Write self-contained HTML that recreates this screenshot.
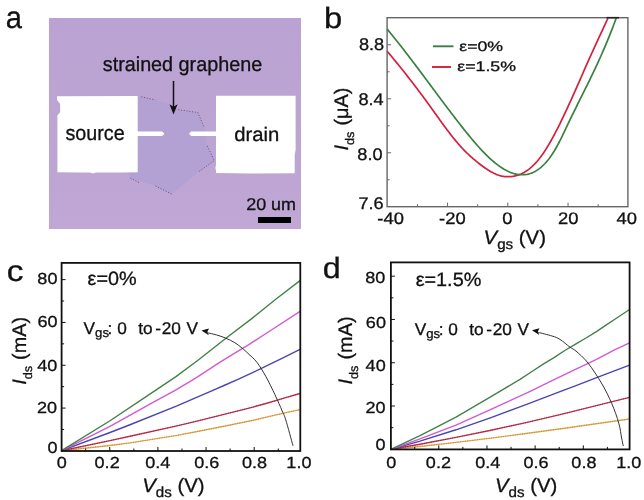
<!DOCTYPE html>
<html><head><meta charset="utf-8"><style>
html,body{margin:0;padding:0;background:#fff;}
svg{display:block;filter:blur(0.35px);}
text{font-family:"Liberation Sans", sans-serif;text-rendering:geometricPrecision;stroke:#111;stroke-width:0.3px;}
</style></head><body>
<svg width="644" height="500" viewBox="0 0 644 500">
<defs>
<linearGradient id="abg" x1="0" y1="0" x2="0" y2="1">
<stop offset="0" stop-color="#baa2d2"/>
<stop offset="0.6" stop-color="#bca4d3"/>
<stop offset="1" stop-color="#c0a7d5"/>
</linearGradient>
</defs>
<rect width="644" height="500" fill="#fff"/>
<rect x="49" y="18" width="252" height="211" fill="url(#abg)"/>
<path d="M137.70,96.30 L141.20,96.70 L155.20,99.90 L166.00,103.00 L178.20,109.70 L197.80,112.50 L204.00,127.10 L207.30,145.90 L214.30,160.60 L198.00,172.30 L171.60,194.00 L154.50,185.50 L130.40,178.50 L128.00,173.00 L137.70,172.30Z" fill="#b4a1d4"/>
<path d="M141.20,96.70 L155.20,99.90" fill="none" stroke="#6a5080" stroke-width="0.9" stroke-dasharray="1.2,1.6"/>
<path d="M178.20,109.70 L197.80,112.50 L204.00,127.10" fill="none" stroke="#6a5080" stroke-width="0.9" stroke-dasharray="1.2,1.6"/>
<path d="M207.30,145.90 L214.30,160.60 L198.00,172.30" fill="none" stroke="#6a5080" stroke-width="0.9" stroke-dasharray="1.2,1.6"/>
<path d="M171.60,194.00 L154.50,185.50" fill="none" stroke="#6a5080" stroke-width="0.9" stroke-dasharray="1.2,1.6"/>
<path d="M130.40,178.20 L140.00,183.00" fill="none" stroke="#6a5080" stroke-width="0.9" stroke-dasharray="1.2,1.6"/>
<path d="M57.00,96.30 L137.70,96.00 L137.70,131.50 L162.20,131.50 L164.40,133.75 L162.20,136.00 L137.70,136.00 L137.70,172.30 L120.00,172.60 L96.00,172.60 L93.00,173.60 L90.00,172.60 L80.00,172.60 L57.40,172.20 L57.40,115.60 L60.20,112.00 L60.10,104.00 L57.00,100.00Z" fill="#fff"/>
<path d="M216.00,95.70 L295.60,95.70 L295.60,150.00 L294.70,155.00 L294.70,173.30 L250.00,173.50 L216.00,173.00 L216.00,170.70 L215.40,168.00 L216.00,165.00 L216.00,136.00 L191.20,136.00 L189.00,133.75 L191.20,131.50 L216.00,131.50Z" fill="#fff"/>
<line x1="173.5" y1="80.9" x2="173.5" y2="108" stroke="#111" stroke-width="1.5"/>
<path d="M169.5,104.3 L173.5,114.6 L177.6,104.3 L173.5,106.8 Z" fill="#111"/>
<rect x="258" y="217" width="33" height="6" fill="#000"/>
<path d="M387.00,51.02 L388.00,52.21 L389.00,53.40 L390.00,54.60 L391.00,55.80 L392.00,57.01 L393.00,58.22 L394.00,59.43 L395.00,60.65 L396.00,61.87 L397.00,63.10 L398.00,64.33 L399.00,65.57 L400.00,66.81 L401.00,68.05 L402.00,69.30 L403.00,70.55 L404.00,71.81 L405.00,73.07 L406.00,74.34 L407.00,75.61 L408.00,76.88 L409.00,78.16 L410.00,79.45 L411.00,80.74 L412.00,82.03 L413.00,83.33 L414.00,84.64 L415.00,85.95 L416.00,87.26 L417.00,88.58 L418.00,89.90 L419.00,91.23 L420.00,92.57 L421.00,93.91 L422.00,95.25 L423.00,96.60 L424.00,97.96 L425.00,99.32 L426.00,100.69 L427.00,102.06 L428.00,103.44 L429.00,104.82 L430.00,106.21 L431.00,107.60 L432.00,108.99 L433.00,110.39 L434.00,111.79 L435.00,113.19 L436.00,114.58 L437.00,115.98 L438.00,117.37 L439.00,118.77 L440.00,120.15 L441.00,121.54 L442.00,122.91 L443.00,124.28 L444.00,125.65 L445.00,127.00 L446.00,128.35 L447.00,129.68 L448.00,131.01 L449.00,132.32 L450.00,133.62 L451.00,134.91 L452.00,136.19 L453.00,137.45 L454.00,138.69 L455.00,139.91 L456.00,141.12 L457.00,142.31 L458.00,143.49 L459.00,144.64 L460.00,145.77 L461.00,146.87 L462.00,147.96 L463.00,149.02 L464.00,150.06 L465.00,151.08 L466.00,152.07 L467.00,153.05 L468.00,154.01 L469.00,154.94 L470.00,155.86 L471.00,156.77 L472.00,157.65 L473.00,158.52 L474.00,159.38 L475.00,160.22 L476.00,161.05 L477.00,161.87 L478.00,162.67 L479.00,163.46 L480.00,164.24 L481.00,165.01 L482.00,165.77 L483.00,166.51 L484.00,167.23 L485.00,167.93 L486.00,168.62 L487.00,169.28 L488.00,169.93 L489.00,170.55 L490.00,171.15 L491.00,171.73 L492.00,172.27 L493.00,172.80 L494.00,173.29 L495.00,173.75 L496.00,174.19 L497.00,174.59 L498.00,174.96 L499.00,175.30 L500.00,175.60 L501.00,175.87 L502.00,176.10 L503.00,176.29 L504.00,176.44 L505.00,176.56 L506.00,176.65 L507.00,176.70 L508.00,176.72 L509.00,176.70 L510.00,176.65 L511.00,176.57 L512.00,176.46 L513.00,176.32 L514.00,176.14 L515.00,175.93 L516.00,175.69 L517.00,175.41 L518.00,175.10 L519.00,174.75 L520.00,174.36 L521.00,173.94 L522.00,173.48 L523.00,172.98 L524.00,172.43 L525.00,171.85 L526.00,171.23 L527.00,170.57 L528.00,169.86 L529.00,169.11 L530.00,168.31 L531.00,167.47 L532.00,166.59 L533.00,165.65 L534.00,164.68 L535.00,163.65 L536.00,162.57 L537.00,161.45 L538.00,160.27 L539.00,159.05 L540.00,157.77 L541.00,156.45 L542.00,155.07 L543.00,153.65 L544.00,152.18 L545.00,150.67 L546.00,149.11 L547.00,147.51 L548.00,145.87 L549.00,144.19 L550.00,142.48 L551.00,140.73 L552.00,138.94 L553.00,137.12 L554.00,135.26 L555.00,133.38 L556.00,131.46 L557.00,129.52 L558.00,127.55 L559.00,125.55 L560.00,123.53 L561.00,121.49 L562.00,119.43 L563.00,117.34 L564.00,115.24 L565.00,113.11 L566.00,110.98 L567.00,108.82 L568.00,106.65 L569.00,104.46 L570.00,102.27 L571.00,100.06 L572.00,97.83 L573.00,95.60 L574.00,93.36 L575.00,91.12 L576.00,88.86 L577.00,86.60 L578.00,84.34 L579.00,82.07 L580.00,79.80 L581.00,77.53 L582.00,75.25 L583.00,72.98 L584.00,70.71 L585.00,68.45 L586.00,66.18 L587.00,63.92 L588.00,61.67 L589.00,59.42 L590.00,57.19 L591.00,54.96 L592.00,52.74 L593.00,50.53 L594.00,48.34 L595.00,46.15 L596.00,43.97 L597.00,41.80 L598.00,39.64 L599.00,37.48 L600.00,35.33 L601.00,33.18 L602.00,31.03 L603.00,28.88 L604.00,26.73 L605.00,24.58 L606.00,22.42 L607.00,20.26 L608.00,18.09" fill="none" stroke="#d4203e" stroke-width="1.7"/>
<path d="M387.00,28.94 L388.00,30.14 L389.00,31.35 L390.00,32.56 L391.00,33.78 L392.00,35.00 L393.00,36.24 L394.00,37.47 L395.00,38.72 L396.00,39.97 L397.00,41.22 L398.00,42.48 L399.00,43.74 L400.00,45.01 L401.00,46.29 L402.00,47.57 L403.00,48.85 L404.00,50.14 L405.00,51.43 L406.00,52.73 L407.00,54.03 L408.00,55.33 L409.00,56.64 L410.00,57.95 L411.00,59.26 L412.00,60.58 L413.00,61.90 L414.00,63.22 L415.00,64.55 L416.00,65.88 L417.00,67.21 L418.00,68.54 L419.00,69.87 L420.00,71.21 L421.00,72.55 L422.00,73.88 L423.00,75.23 L424.00,76.57 L425.00,77.91 L426.00,79.25 L427.00,80.60 L428.00,81.94 L429.00,83.29 L430.00,84.63 L431.00,85.98 L432.00,87.32 L433.00,88.67 L434.00,90.01 L435.00,91.36 L436.00,92.70 L437.00,94.05 L438.00,95.39 L439.00,96.73 L440.00,98.07 L441.00,99.40 L442.00,100.74 L443.00,102.08 L444.00,103.41 L445.00,104.74 L446.00,106.07 L447.00,107.39 L448.00,108.72 L449.00,110.04 L450.00,111.35 L451.00,112.67 L452.00,113.98 L453.00,115.29 L454.00,116.59 L455.00,117.89 L456.00,119.19 L457.00,120.48 L458.00,121.77 L459.00,123.06 L460.00,124.34 L461.00,125.61 L462.00,126.89 L463.00,128.15 L464.00,129.41 L465.00,130.67 L466.00,131.91 L467.00,133.16 L468.00,134.39 L469.00,135.61 L470.00,136.83 L471.00,138.04 L472.00,139.24 L473.00,140.42 L474.00,141.60 L475.00,142.76 L476.00,143.92 L477.00,145.06 L478.00,146.19 L479.00,147.30 L480.00,148.40 L481.00,149.49 L482.00,150.56 L483.00,151.61 L484.00,152.65 L485.00,153.67 L486.00,154.68 L487.00,155.66 L488.00,156.63 L489.00,157.58 L490.00,158.51 L491.00,159.42 L492.00,160.31 L493.00,161.18 L494.00,162.02 L495.00,162.85 L496.00,163.65 L497.00,164.43 L498.00,165.18 L499.00,165.91 L500.00,166.62 L501.00,167.30 L502.00,167.95 L503.00,168.58 L504.00,169.18 L505.00,169.75 L506.00,170.30 L507.00,170.82 L508.00,171.30 L509.00,171.76 L510.00,172.19 L511.00,172.59 L512.00,172.95 L513.00,173.29 L514.00,173.59 L515.00,173.85 L516.00,174.09 L517.00,174.29 L518.00,174.46 L519.00,174.59 L520.00,174.68 L521.00,174.74 L522.00,174.77 L523.00,174.75 L524.00,174.70 L525.00,174.61 L526.00,174.48 L527.00,174.31 L528.00,174.10 L529.00,173.85 L530.00,173.56 L531.00,173.22 L532.00,172.84 L533.00,172.42 L534.00,171.95 L535.00,171.43 L536.00,170.87 L537.00,170.25 L538.00,169.59 L539.00,168.88 L540.00,168.11 L541.00,167.29 L542.00,166.42 L543.00,165.49 L544.00,164.51 L545.00,163.47 L546.00,162.38 L547.00,161.22 L548.00,160.01 L549.00,158.74 L550.00,157.40 L551.00,156.00 L552.00,154.54 L553.00,153.02 L554.00,151.43 L555.00,149.77 L556.00,148.05 L557.00,146.26 L558.00,144.41 L559.00,142.51 L560.00,140.56 L561.00,138.57 L562.00,136.54 L563.00,134.49 L564.00,132.41 L565.00,130.31 L566.00,128.20 L567.00,126.09 L568.00,123.99 L569.00,121.89 L570.00,119.80 L571.00,117.73 L572.00,115.67 L573.00,113.62 L574.00,111.58 L575.00,109.54 L576.00,107.52 L577.00,105.50 L578.00,103.49 L579.00,101.48 L580.00,99.47 L581.00,97.47 L582.00,95.46 L583.00,93.45 L584.00,91.44 L585.00,89.43 L586.00,87.41 L587.00,85.39 L588.00,83.36 L589.00,81.32 L590.00,79.27 L591.00,77.21 L592.00,75.14 L593.00,73.06 L594.00,70.96 L595.00,68.84 L596.00,66.71 L597.00,64.56 L598.00,62.39 L599.00,60.20 L600.00,57.99 L601.00,55.76 L602.00,53.50 L603.00,51.21 L604.00,48.90 L605.00,46.57 L606.00,44.20 L607.00,41.80 L608.00,39.37 L609.00,36.91 L610.00,34.42 L611.00,31.89 L612.00,29.32 L613.00,26.72 L614.00,24.07 L615.00,21.39 L616.00,18.67 L616.40,17.57" fill="none" stroke="#3a8040" stroke-width="1.7"/>
<rect x="387.1" y="17.7" width="240.79999999999995" height="189.0" fill="none" stroke="#666" stroke-width="1.4"/>
<line x1="387.1" y1="179.80" x2="389.6" y2="179.80" stroke="#666" stroke-width="1"/>
<line x1="387.1" y1="152.80" x2="391.1" y2="152.80" stroke="#666" stroke-width="1"/>
<line x1="387.1" y1="125.80" x2="389.6" y2="125.80" stroke="#666" stroke-width="1"/>
<line x1="387.1" y1="98.80" x2="391.1" y2="98.80" stroke="#666" stroke-width="1"/>
<line x1="387.1" y1="71.80" x2="389.6" y2="71.80" stroke="#666" stroke-width="1"/>
<line x1="387.1" y1="44.80" x2="391.1" y2="44.80" stroke="#666" stroke-width="1"/>
<line x1="417.43" y1="206.7" x2="417.43" y2="204.2" stroke="#666" stroke-width="1"/>
<line x1="447.55" y1="206.7" x2="447.55" y2="202.7" stroke="#666" stroke-width="1"/>
<line x1="477.68" y1="206.7" x2="477.68" y2="204.2" stroke="#666" stroke-width="1"/>
<line x1="507.80" y1="206.7" x2="507.80" y2="202.7" stroke="#666" stroke-width="1"/>
<line x1="537.92" y1="206.7" x2="537.92" y2="204.2" stroke="#666" stroke-width="1"/>
<line x1="568.05" y1="206.7" x2="568.05" y2="202.7" stroke="#666" stroke-width="1"/>
<line x1="598.17" y1="206.7" x2="598.17" y2="204.2" stroke="#666" stroke-width="1"/>
<line x1="606.5" y1="17.7" x2="619" y2="17.7" stroke="#222" stroke-width="1.6"/>
<line x1="433" y1="46.3" x2="453.5" y2="46.3" stroke="#3a8040" stroke-width="1.9"/>
<line x1="432" y1="67" x2="451" y2="67" stroke="#d4203e" stroke-width="1.9"/>
<path d="M61.60,450.70 L110.00,445.49 L130.00,442.93 L177.00,435.41 L196.00,431.78 L224.00,426.25 L252.00,420.55 L275.00,415.17 L293.00,411.16 L300.00,409.66" fill="none" stroke="#e8b055" stroke-width="1.4" stroke-linejoin="round"/>
<path d="M61.60,450.70 L110.00,445.49 L130.00,442.93 L177.00,435.41 L196.00,431.78 L224.00,426.25 L252.00,420.55 L275.00,415.17 L293.00,411.16 L300.00,409.66" fill="none" stroke="#a07030" stroke-width="1.0" stroke-dasharray="0.9,1.5" opacity="0.75"/>
<path d="M61.60,450.70 L110.00,440.59 L130.00,436.29 L177.00,425.83 L196.00,421.31 L224.00,414.41 L252.00,407.32 L266.00,403.46 L284.00,398.10 L300.00,393.54" fill="none" stroke="#c83450" stroke-width="1.4" stroke-linejoin="round"/>
<path d="M61.60,450.70 L110.00,440.59 L130.00,436.29 L177.00,425.83 L196.00,421.31 L224.00,414.41 L252.00,407.32 L266.00,403.46 L284.00,398.10 L300.00,393.54" fill="none" stroke="#6a2038" stroke-width="1.0" stroke-dasharray="0.9,1.5" opacity="0.75"/>
<path d="M61.60,450.70 L110.00,432.50 L130.00,424.73 L177.00,405.82 L196.00,397.66 L210.00,391.57 L224.00,385.51 L238.00,379.34 L252.00,372.92 L266.00,366.13 L284.00,357.34 L300.00,349.43" fill="none" stroke="#4a44b4" stroke-width="1.4" stroke-linejoin="round"/>
<path d="M61.60,450.70 L110.00,426.32 L153.50,402.08 L175.60,390.17 L196.00,377.79 L220.10,362.15 L234.80,353.15 L248.00,345.13 L271.40,330.00 L300.00,311.42" fill="none" stroke="#d25ad2" stroke-width="1.4" stroke-linejoin="round"/>
<path d="M61.60,450.70 L110.00,420.75 L148.00,395.43 L175.60,376.91 L198.00,360.30 L225.60,338.53 L251.40,318.88 L276.40,298.75 L300.00,280.64" fill="none" stroke="#43804a" stroke-width="1.4" stroke-linejoin="round"/>
<path d="M390.90,449.30 L420.00,446.43 L456.00,442.42 L491.00,438.13 L526.00,433.53 L561.00,428.71 L629.50,418.99" fill="none" stroke="#e8b055" stroke-width="1.4" stroke-linejoin="round"/>
<path d="M390.90,449.30 L420.00,446.43 L456.00,442.42 L491.00,438.13 L526.00,433.53 L561.00,428.71 L629.50,418.99" fill="none" stroke="#a07030" stroke-width="1.0" stroke-dasharray="0.9,1.5" opacity="0.75"/>
<path d="M390.90,449.30 L420.00,444.22 L456.00,437.39 L491.00,430.22 L526.00,422.56 L561.00,414.44 L629.50,397.35" fill="none" stroke="#c83450" stroke-width="1.4" stroke-linejoin="round"/>
<path d="M390.90,449.30 L420.00,444.22 L456.00,437.39 L491.00,430.22 L526.00,422.56 L561.00,414.44 L629.50,397.35" fill="none" stroke="#6a2038" stroke-width="1.0" stroke-dasharray="0.9,1.5" opacity="0.75"/>
<path d="M390.90,449.30 L420.00,441.10 L456.00,429.79 L491.00,417.58 L526.00,404.67 L560.00,391.72 L576.00,385.62 L596.00,377.97 L629.50,365.20" fill="none" stroke="#4a44b4" stroke-width="1.4" stroke-linejoin="round"/>
<path d="M390.90,449.30 L420.00,438.93 L456.00,425.11 L491.00,409.48 L531.20,390.87 L553.60,379.93 L576.00,369.04 L596.00,359.51 L614.00,350.10 L629.50,342.85" fill="none" stroke="#d25ad2" stroke-width="1.4" stroke-linejoin="round"/>
<path d="M390.90,449.30 L420.00,435.64 L456.00,417.14 L491.00,396.70 L520.00,379.42 L531.20,371.99 L542.40,364.58 L553.60,357.95 L564.80,350.50 L576.00,343.84 L586.00,338.01 L596.00,331.83 L606.00,325.16 L616.00,318.51 L629.50,309.54" fill="none" stroke="#43804a" stroke-width="1.4" stroke-linejoin="round"/>
<rect x="61.6" y="262.9" width="238.70000000000002" height="188.10000000000002" fill="none" stroke="#111" stroke-width="1.8"/>
<line x1="85.68" y1="451.0" x2="85.68" y2="448.5" stroke="#111" stroke-width="1"/>
<line x1="109.75" y1="451.0" x2="109.75" y2="447.0" stroke="#111" stroke-width="1"/>
<line x1="133.82" y1="451.0" x2="133.82" y2="448.5" stroke="#111" stroke-width="1"/>
<line x1="157.90" y1="451.0" x2="157.90" y2="447.0" stroke="#111" stroke-width="1"/>
<line x1="181.97" y1="451.0" x2="181.97" y2="448.5" stroke="#111" stroke-width="1"/>
<line x1="206.05" y1="451.0" x2="206.05" y2="447.0" stroke="#111" stroke-width="1"/>
<line x1="230.12" y1="451.0" x2="230.12" y2="448.5" stroke="#111" stroke-width="1"/>
<line x1="254.20" y1="451.0" x2="254.20" y2="447.0" stroke="#111" stroke-width="1"/>
<line x1="278.28" y1="451.0" x2="278.28" y2="448.5" stroke="#111" stroke-width="1"/>
<line x1="61.6" y1="429.49" x2="64.1" y2="429.49" stroke="#111" stroke-width="1"/>
<line x1="61.6" y1="408.08" x2="65.6" y2="408.08" stroke="#111" stroke-width="1"/>
<line x1="61.6" y1="386.67" x2="64.1" y2="386.67" stroke="#111" stroke-width="1"/>
<line x1="61.6" y1="365.26" x2="65.6" y2="365.26" stroke="#111" stroke-width="1"/>
<line x1="61.6" y1="343.85" x2="64.1" y2="343.85" stroke="#111" stroke-width="1"/>
<line x1="61.6" y1="322.44" x2="65.6" y2="322.44" stroke="#111" stroke-width="1"/>
<line x1="61.6" y1="301.03" x2="64.1" y2="301.03" stroke="#111" stroke-width="1"/>
<line x1="61.6" y1="279.62" x2="65.6" y2="279.62" stroke="#111" stroke-width="1"/>
<rect x="390.9" y="262.4" width="238.70000000000005" height="187.0" fill="none" stroke="#111" stroke-width="1.8"/>
<line x1="414.69" y1="449.4" x2="414.69" y2="446.9" stroke="#111" stroke-width="1"/>
<line x1="438.78" y1="449.4" x2="438.78" y2="445.4" stroke="#111" stroke-width="1"/>
<line x1="462.87" y1="449.4" x2="462.87" y2="446.9" stroke="#111" stroke-width="1"/>
<line x1="486.96" y1="449.4" x2="486.96" y2="445.4" stroke="#111" stroke-width="1"/>
<line x1="511.05" y1="449.4" x2="511.05" y2="446.9" stroke="#111" stroke-width="1"/>
<line x1="535.14" y1="449.4" x2="535.14" y2="445.4" stroke="#111" stroke-width="1"/>
<line x1="559.23" y1="449.4" x2="559.23" y2="446.9" stroke="#111" stroke-width="1"/>
<line x1="583.32" y1="449.4" x2="583.32" y2="445.4" stroke="#111" stroke-width="1"/>
<line x1="607.41" y1="449.4" x2="607.41" y2="446.9" stroke="#111" stroke-width="1"/>
<line x1="390.9" y1="427.66" x2="393.4" y2="427.66" stroke="#111" stroke-width="1"/>
<line x1="390.9" y1="406.02" x2="394.9" y2="406.02" stroke="#111" stroke-width="1"/>
<line x1="390.9" y1="384.38" x2="393.4" y2="384.38" stroke="#111" stroke-width="1"/>
<line x1="390.9" y1="362.74" x2="394.9" y2="362.74" stroke="#111" stroke-width="1"/>
<line x1="390.9" y1="341.10" x2="393.4" y2="341.10" stroke="#111" stroke-width="1"/>
<line x1="390.9" y1="319.46" x2="394.9" y2="319.46" stroke="#111" stroke-width="1"/>
<line x1="390.9" y1="297.82" x2="393.4" y2="297.82" stroke="#111" stroke-width="1"/>
<line x1="390.9" y1="276.18" x2="394.9" y2="276.18" stroke="#111" stroke-width="1"/>
<path d="M293.00,445.70 C291.80,441.42 287.60,425.78 285.80,420.00 C284.00,414.22 284.00,415.20 282.20,411.00 C280.40,406.80 277.70,400.50 275.00,394.80 C272.30,389.10 269.00,382.20 266.00,376.80 C263.00,371.40 260.00,366.30 257.00,362.40 C254.00,358.50 250.47,355.77 248.00,353.40 C245.53,351.03 244.40,349.98 242.20,348.20 C240.00,346.42 237.57,344.38 234.80,342.70 C232.03,341.02 228.67,339.40 225.60,338.10 C222.53,336.80 219.42,335.78 216.40,334.90 C213.38,334.02 208.98,333.15 207.50,332.80" fill="none" stroke="#333" stroke-width="1.0"/>
<path d="M201.5,330.6 L209.0,328.5 L207.3,331.90000000000003 L208.8,335.3 Z" fill="#111"/>
<path d="M623.30,446.00 C623.02,444.67 622.35,441.80 621.60,438.00 C620.85,434.20 620.43,428.93 618.80,423.20 C617.17,417.47 614.60,410.13 611.80,403.60 C609.00,397.07 605.97,390.77 602.00,384.00 C598.03,377.23 592.33,368.48 588.00,363.00 C583.67,357.52 579.00,353.73 576.00,351.10 C573.00,348.47 572.67,349.15 570.00,347.20 C567.33,345.25 563.00,341.27 560.00,339.40 C557.00,337.53 555.62,337.17 552.00,336.00 C548.38,334.83 540.58,333.00 538.30,332.40" fill="none" stroke="#333" stroke-width="1.0"/>
<path d="M532.0,330.3 L539.5,328.2 L537.8,331.6 L539.3,335.0 Z" fill="#111"/>
<text id="la" transform="translate(5.82,28.10) scale(0.9395,1)" font-size="31.01" fill="#111" >a</text>
<text id="lb" transform="translate(323.91,28.30) scale(1.1088,1)" font-size="29.50" fill="#111" >b</text>
<text id="lc" transform="translate(6.82,280.52) scale(1.1316,1)" font-size="29.52" fill="#111" >c</text>
<text id="ld" transform="translate(322.73,278.30) scale(1.0928,1)" font-size="29.50" fill="#111" >d</text>
<text id="sg" transform="translate(102.79,70.89) scale(0.9723,1)" font-size="20.34" fill="#111" >strained graphene</text>
<text id="src" transform="translate(65.47,140.15) scale(0.9496,1)" font-size="20.76" fill="#111" >source</text>
<text id="drn" transform="translate(234.34,141.29) scale(1.0378,1)" font-size="19.52" fill="#111" >drain</text>
<text id="um" transform="translate(246.15,210.33) scale(1.0557,1)" font-size="17.02" fill="#111" >20 um</text>
<text id="b88" transform="translate(358.98,49.53) scale(1.0766,1)" font-size="16.88" fill="#111" >8.8</text>
<text id="b84" transform="translate(358.42,104.92) scale(1.0766,1)" font-size="16.88" fill="#111" >8.4</text>
<text id="b80" transform="translate(357.34,160.42) scale(1.0766,1)" font-size="16.88" fill="#111" >8.0</text>
<text id="b76" transform="translate(358.38,208.84) scale(1.0766,1)" font-size="16.88" fill="#111" >7.6</text>
<text id="bm40" transform="translate(377.31,223.72) scale(1.1041,1)" font-size="16.65" fill="#111" >-40</text>
<text id="bm20" transform="translate(439.05,223.72) scale(1.1041,1)" font-size="16.65" fill="#111" >-20</text>
<text id="b0" transform="translate(502.30,223.72) scale(1.1041,1)" font-size="16.65" fill="#111" >0</text>
<text id="b20" transform="translate(558.06,223.72) scale(1.1041,1)" font-size="16.65" fill="#111" >20</text>
<text id="b40" transform="translate(616.47,223.72) scale(1.1041,1)" font-size="16.65" fill="#111" >40</text>
<text id="leg1" transform="translate(459.26,51.10) scale(1.2846,1)" font-size="13.81" fill="#111" >ε=0%</text>
<text id="leg2" transform="translate(457.31,70.93) scale(1.2846,1)" font-size="13.81" fill="#111" >ε=1.5%</text>
<text id="bxt" transform="translate(483.54,243.80) scale(1.0442,1)" font-size="19.50" fill="#111" ><tspan font-style="italic">V</tspan><tspan font-size="14.5" dy="5">gs</tspan><tspan dy="-5"> (V)</tspan></text>
<text id="byt" transform="translate(348.33,150.56) rotate(-90) scale(1.0176,1)" font-size="19.50" fill="#111" ><tspan font-style="italic">I</tspan><tspan font-size="12.5" dy="5.5">ds</tspan><tspan dy="-5.5" dx="0.5"> (μA)</tspan></text>
<text id="cy80" transform="translate(37.34,283.59) scale(1.1303,1)" font-size="15.97" fill="#111" >80</text>
<text id="cy60" transform="translate(37.52,326.79) scale(1.1303,1)" font-size="15.97" fill="#111" >60</text>
<text id="cy40" transform="translate(37.19,371.14) scale(1.1303,1)" font-size="15.97" fill="#111" >40</text>
<text id="cy20" transform="translate(36.89,413.26) scale(1.1303,1)" font-size="15.97" fill="#111" >20</text>
<text id="cy0" transform="translate(47.51,453.48) scale(1.1303,1)" font-size="15.97" fill="#111" >0</text>
<text id="cx0" transform="translate(56.72,468.03) scale(1.1303,1)" font-size="15.97" fill="#111" >0</text>
<text id="cx0p2" transform="translate(94.58,468.03) scale(1.1303,1)" font-size="15.97" fill="#111" >0.2</text>
<text id="cx0p4" transform="translate(145.14,468.03) scale(1.1303,1)" font-size="15.97" fill="#111" >0.4</text>
<text id="cx0p6" transform="translate(194.18,468.03) scale(1.1303,1)" font-size="15.97" fill="#111" >0.6</text>
<text id="cx0p8" transform="translate(241.91,468.03) scale(1.1303,1)" font-size="15.97" fill="#111" >0.8</text>
<text id="cx1p0" transform="translate(286.34,468.03) scale(1.1303,1)" font-size="15.97" fill="#111" >1.0</text>
<text id="dy80" transform="translate(365.25,283.39) scale(1.1303,1)" font-size="15.97" fill="#111" >80</text>
<text id="dy60" transform="translate(365.87,327.74) scale(1.1303,1)" font-size="15.97" fill="#111" >60</text>
<text id="dy40" transform="translate(365.61,370.73) scale(1.1303,1)" font-size="15.97" fill="#111" >40</text>
<text id="dy20" transform="translate(365.38,413.03) scale(1.1303,1)" font-size="15.97" fill="#111" >20</text>
<text id="dy0" transform="translate(375.50,450.43) scale(1.1303,1)" font-size="15.97" fill="#111" >0</text>
<text id="dx0" transform="translate(386.17,468.04) scale(1.1303,1)" font-size="15.97" fill="#111" >0</text>
<text id="dx0p2" transform="translate(425.86,468.04) scale(1.1303,1)" font-size="15.97" fill="#111" >0.2</text>
<text id="dx0p4" transform="translate(475.13,468.04) scale(1.1303,1)" font-size="15.97" fill="#111" >0.4</text>
<text id="dx0p6" transform="translate(523.53,468.04) scale(1.1303,1)" font-size="15.97" fill="#111" >0.6</text>
<text id="dx0p8" transform="translate(571.36,468.04) scale(1.1303,1)" font-size="15.97" fill="#111" >0.8</text>
<text id="dx1p0" transform="translate(616.30,468.04) scale(1.1303,1)" font-size="15.97" fill="#111" >1.0</text>
<text id="ceps" transform="translate(87.60,285.16) scale(1.0271,1)" font-size="19.32" fill="#111" >ε=0%</text>
<text id="deps" transform="translate(415.66,285.76) scale(1.0271,1)" font-size="19.32" fill="#111" >ε=1.5%</text>
<text id="cvgs" transform="translate(83.62,333.64) scale(1.0170,1)" font-size="16.97" fill="#111" xml:space="preserve">V<tspan font-size="13" dy="3.5">gs</tspan><tspan dy="-3.5" dx="-1.5">:</tspan> 0<tspan dx="1.9">  to</tspan><tspan dx="2.5">-</tspan><tspan dx="0.7">20</tspan><tspan dx="0.8"> V</tspan></text>
<text id="dvgs" transform="translate(414.70,334.54) scale(1.0170,1)" font-size="16.97" fill="#111" xml:space="preserve">V<tspan font-size="13" dy="3.5">gs</tspan><tspan dy="-3.5" dx="-1.5">:</tspan> 0<tspan dx="1.9">  to</tspan><tspan dx="2.5">-</tspan><tspan dx="0.7">20</tspan><tspan dx="0.8"> V</tspan></text>
<text id="cxt" transform="translate(142.22,491.60) scale(1.0442,1)" font-size="19.50" fill="#111" ><tspan font-style="italic">V</tspan><tspan font-size="14.5" dy="5">ds</tspan><tspan dy="-5"> (V)</tspan></text>
<text id="dxt" transform="translate(494.99,492.20) scale(1.0442,1)" font-size="19.50" fill="#111" ><tspan font-style="italic">V</tspan><tspan font-size="14.5" dy="5">ds</tspan><tspan dy="-5"> (V)</tspan></text>
<text id="cyt" transform="translate(26.01,384.86) rotate(-90) scale(1.0176,1)" font-size="19.50" fill="#111" ><tspan font-style="italic">I</tspan><tspan font-size="12.5" dy="5.5">ds</tspan><tspan dy="-5.5" dx="0.5"> (mA)</tspan></text>
<text id="dyt" transform="translate(352.41,384.47) rotate(-90) scale(1.0176,1)" font-size="19.50" fill="#111" ><tspan font-style="italic">I</tspan><tspan font-size="12.5" dy="5.5">ds</tspan><tspan dy="-5.5" dx="0.5"> (mA)</tspan></text>
</svg>
</body></html>
